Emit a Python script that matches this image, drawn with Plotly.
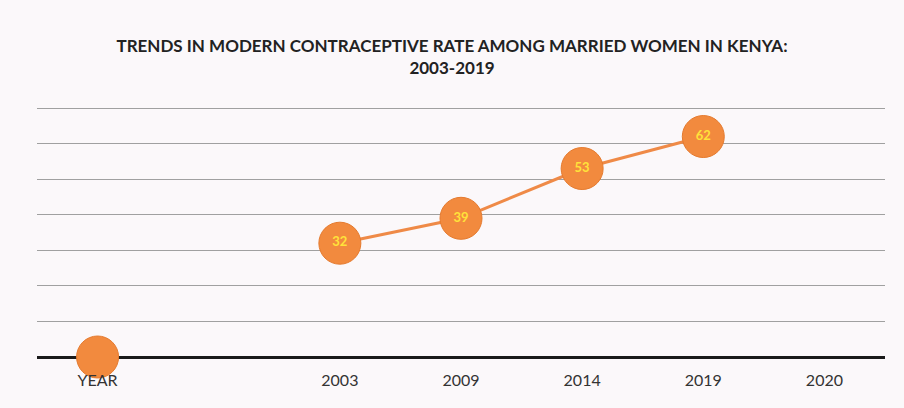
import plotly.graph_objects as go

categories = ["YEAR", " ", "2003", "2009", "2014", "2019", "2020"]
values = [0, None, 32, 39, 53, 62, None]
labels = ["", "", "32", "39", "53", "62", ""]

fig = go.Figure()
fig.add_trace(go.Scatter(
    x=categories, y=values, text=labels,
    mode="lines+markers+text",
    textposition="middle center",
    textfont=dict(family="Lato", size=13, color="#FFE23A", weight="bold"),
    line=dict(color="#EF8A47", width=3),
    marker=dict(size=42, color="#F28A3E", line=dict(color="#E57A2E", width=1)),
    connectgaps=False,
    cliponaxis=False,
    hoverinfo="skip",
))

fig.update_layout(
    width=904, height=408,
    margin=dict(l=37, r=19, t=107, b=51),
    paper_bgcolor="#FBF8FA",
    plot_bgcolor="#FBF8FA",
    showlegend=False,
    title=dict(
        text="TRENDS IN MODERN CONTRACEPTIVE RATE AMONG MARRIED WOMEN IN KENYA:<br>2003-2019",
        x=0.5, xanchor="center", y=0.873, yanchor="middle",
        font=dict(family="Lato", size=17, color="#222222", weight="bold"),
    ),
    xaxis=dict(
        type="category", categoryorder="array", categoryarray=categories,
        showgrid=False, showline=False, ticks="",
        tickfont=dict(family="Lato", size=16, color="#333333"),
        ticklabelstandoff=12,
        range=[-0.5, 6.5],
    ),
    yaxis=dict(
        range=[0, 70.3], dtick=10, showticklabels=False,
        showgrid=True, gridcolor="#A0A0A0", gridwidth=1,
        zeroline=True, zerolinecolor="#1A1A1A", zerolinewidth=3,
        showline=False,
    ),
)

fig.write_html("out.html")
